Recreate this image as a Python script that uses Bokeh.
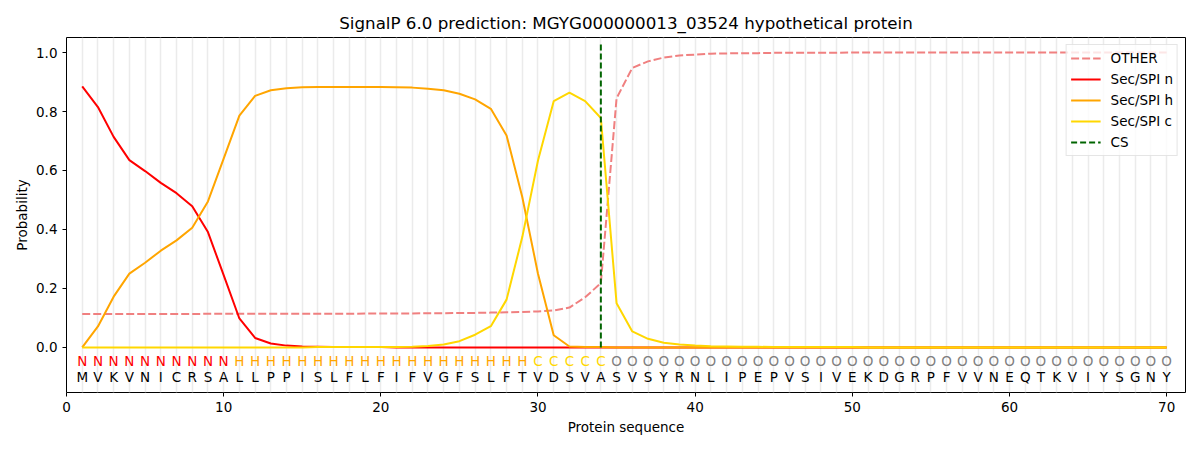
from bokeh.plotting import figure
from bokeh.models import ColumnDataSource, FixedTicker, PrintfTickFormatter, Range1d, Legend
from bokeh.core.properties import value
from bokeh.embed import file_html
from bokeh.resources import INLINE

title = "SignalP 6.0 prediction: MGYG000000013_03524 hypothetical protein"
sequence = list("MVKVNICRSALLPPISLFLFIFVGFSLFTVDSVASVSYRNLIPEPVSIVEKDGRPFVVNEQTKVIYSGNY")
labels = list("NNNNNNNNNN" "HHHHHHHHHHHHHHHHHHH" "CCCCC" "OOOOOOOOOOOOOOOOOOOOOOOOOOOOOOOOOOOO")
positions = list(range(1, 71))
cs_position = 34

other = [0.113, 0.113, 0.113, 0.113, 0.113, 0.113, 0.113, 0.113, 0.114, 0.114,
         0.114, 0.114, 0.114, 0.114, 0.114, 0.114, 0.114, 0.114, 0.115, 0.115,
         0.115, 0.115, 0.116, 0.116, 0.117, 0.117, 0.118, 0.119, 0.120, 0.122,
         0.125, 0.135, 0.170, 0.218, 0.845, 0.948, 0.970, 0.983, 0.990, 0.993,
         0.996, 0.997, 0.998, 0.998, 0.999, 0.999, 0.999, 0.999, 0.999, 1.000,
         1.000, 1.000, 1.000, 1.000, 1.000, 1.000, 1.000, 1.000, 1.000, 1.000,
         1.000, 1.000, 1.000, 1.000, 1.000, 1.000, 1.000, 1.000, 1.000, 1.000]
sec_n = [0.885, 0.815, 0.714, 0.635, 0.598, 0.558, 0.523, 0.479, 0.391, 0.245,
         0.098, 0.032, 0.013, 0.006, 0.003, 0.002, 0.001, 0.001, 0.001, 0.001,
         0.000, 0.000, 0.000, 0.000, 0.000, 0.000, 0.000, 0.000, 0.000, 0.000,
         0.000, 0.000, 0.000, 0.000, 0.000, 0.000, 0.000, 0.000, 0.000, 0.000,
         0.000, 0.000, 0.000, 0.000, 0.000, 0.000, 0.000, 0.000, 0.000, 0.000,
         0.000, 0.000, 0.000, 0.000, 0.000, 0.000, 0.000, 0.000, 0.000, 0.000,
         0.000, 0.000, 0.000, 0.000, 0.000, 0.000, 0.000, 0.000, 0.000, 0.000]
sec_h = [0.000, 0.071, 0.172, 0.250, 0.287, 0.328, 0.363, 0.406, 0.495, 0.640,
         0.786, 0.853, 0.872, 0.879, 0.882, 0.883, 0.883, 0.883, 0.883, 0.883,
         0.882, 0.881, 0.877, 0.872, 0.860, 0.841, 0.809, 0.719, 0.510, 0.250,
         0.041, 0.003, 0.001, 0.001, 0.000, 0.000, 0.000, 0.000, 0.000, 0.000,
         0.000, 0.000, 0.000, 0.000, 0.000, 0.000, 0.000, 0.000, 0.000, 0.000,
         0.000, 0.000, 0.000, 0.000, 0.000, 0.000, 0.000, 0.000, 0.000, 0.000,
         0.000, 0.000, 0.000, 0.000, 0.000, 0.000, 0.000, 0.000, 0.000, 0.000]
sec_c = [0.000, 0.000, 0.000, 0.000, 0.000, 0.000, 0.000, 0.000, 0.000, 0.000,
         0.000, 0.000, 0.000, 0.000, 0.000, 0.001, 0.001, 0.001, 0.001, 0.001,
         0.001, 0.002, 0.005, 0.010, 0.021, 0.043, 0.072, 0.162, 0.374, 0.634,
         0.835, 0.864, 0.835, 0.778, 0.150, 0.054, 0.029, 0.016, 0.010, 0.006,
         0.004, 0.003, 0.002, 0.002, 0.001, 0.001, 0.001, 0.001, 0.001, 0.001,
         0.000, 0.000, 0.000, 0.000, 0.000, 0.000, 0.000, 0.000, 0.000, 0.000,
         0.000, 0.000, 0.000, 0.000, 0.000, 0.000, 0.000, 0.000, 0.000, 0.000]

label_colors = {"N": "#ff0000", "H": "#ffa500", "C": "#ffd700", "O": "#808080"}
FONT = "DejaVu Sans"

p = figure(width=1192, height=442, output_backend="svg", toolbar_location=None,
           x_range=Range1d(0, 71.2), y_range=Range1d(-0.153, 1.051),
           min_border_left=66, min_border_right=7, min_border_top=37, min_border_bottom=50)

p.title.text = title
p.title.align = "center"
p.title.text_font = FONT
p.title.text_font_size = "16.7px"
p.title.text_font_style = "normal"
p.title.text_color = "#000000"
p.title.offset = 0

p.outline_line_color = "#000000"
p.outline_line_width = 1
p.background_fill_color = "white"
p.border_fill_color = "white"

# grid: vertical lines at each residue
p.xgrid.ticker = FixedTicker(ticks=positions)
p.xgrid.grid_line_color = "#ebebeb"
p.xgrid.grid_line_width = 1.5
p.ygrid.grid_line_color = None

for ax in (p.xaxis[0], p.yaxis[0]):
    ax.axis_line_color = None
    ax.major_tick_in = 0
    ax.major_tick_out = 4
    ax.minor_tick_line_color = None
    ax.major_tick_line_color = "#000000"
    ax.major_label_text_font = FONT
    ax.major_label_text_font_size = "13.5px"
    ax.major_label_text_color = "#000000"
    ax.axis_label_text_font = FONT
    ax.axis_label_text_font_size = "13.5px"
    ax.axis_label_text_font_style = "normal"
    ax.axis_label_text_color = "#000000"

p.xaxis.ticker = FixedTicker(ticks=[0, 10, 20, 30, 40, 50, 60, 70])
p.yaxis.ticker = FixedTicker(ticks=[0.0, 0.2, 0.4, 0.6, 0.8, 1.0])
p.yaxis.formatter = PrintfTickFormatter(format="%.1f")
p.xaxis.axis_label = "Protein sequence"
p.yaxis.axis_label = "Probability"
p.xaxis.major_label_standoff = 5
p.yaxis.major_label_standoff = 5
p.xaxis.axis_label_standoff = 4
p.yaxis.axis_label_standoff = 3

r_other = p.line(positions, other, line_color="#f08080", line_width=2, line_dash="8 3")
r_n = p.line(positions, sec_n, line_color="#ff0000", line_width=2)
r_h = p.line(positions, sec_h, line_color="#ffa500", line_width=2)
r_c = p.line(positions, sec_c, line_color="#ffd700", line_width=2)
r_cs = p.segment(x0=[cs_position], y0=[0.0], x1=[cs_position], y1=[1.035],
                 line_color="#006400", line_width=2, line_dash="6 3")

label_src = ColumnDataSource(dict(x=positions, y=[-0.047] * len(positions), text=labels,
                                  color=[label_colors[l] for l in labels]))
p.text(x="x", y="y", text="text", text_color="color", source=label_src,
       text_align="center", text_baseline="middle", text_font=value(FONT),
       text_font_size="13.5px")
seq_src = ColumnDataSource(dict(x=positions, y=[-0.100] * len(positions), text=sequence))
p.text(x="x", y="y", text="text", text_color="#000000", source=seq_src,
       text_align="center", text_baseline="middle", text_font=value(FONT),
       text_font_size="13.5px")

legend = Legend(items=[("OTHER", [r_other]), ("Sec/SPI n", [r_n]), ("Sec/SPI h", [r_h]),
                       ("Sec/SPI c", [r_c]), ("CS", [r_cs])],
                location="top_right")
legend.label_text_font = FONT
legend.label_text_font_size = "13.5px"
legend.label_text_color = "#000000"
legend.glyph_width = 30
legend.glyph_height = 18
legend.label_height = 18
legend.spacing = 3
legend.padding = 4
legend.margin = 7
legend.label_standoff = 10
legend.border_line_color = "#cccccc"
legend.border_line_width = 1
legend.background_fill_alpha = 0.8
p.add_layout(legend)

open("out.html", "w").write(file_html(p, INLINE))
